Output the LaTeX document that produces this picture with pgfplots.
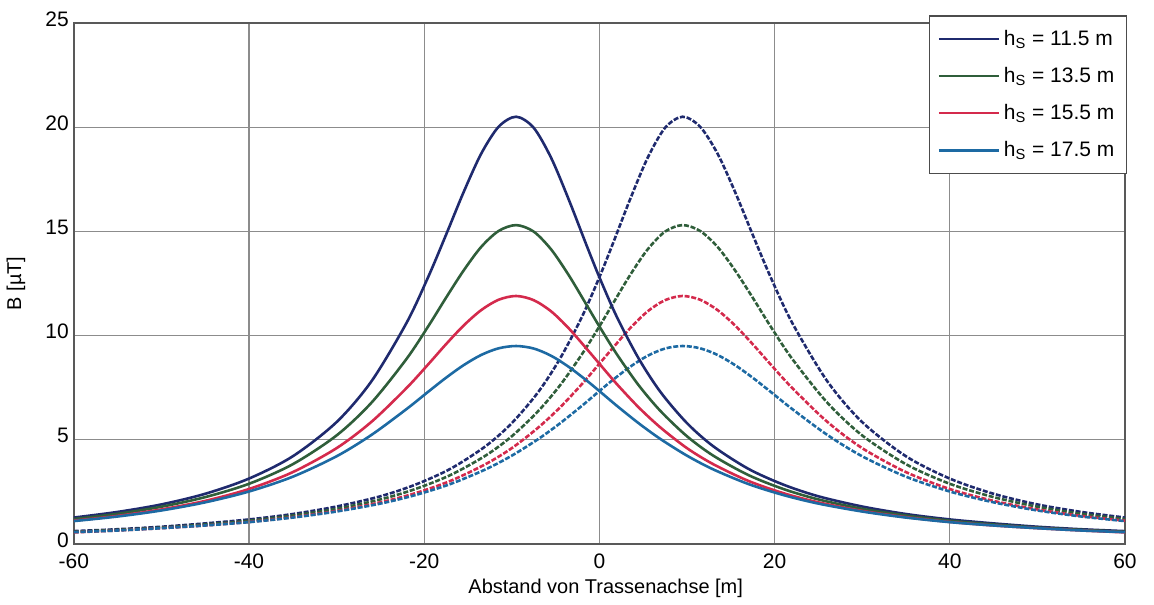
\documentclass[border=0pt]{standalone}
\usepackage{fontspec}
\setmainfont{Liberation Sans}
\usepackage{pgfplots}
\usepackage{pgfplotstable}
\pgfplotsset{compat=1.18}

\definecolor{cNavy}{HTML}{1F2A6E}
\definecolor{cGreen}{HTML}{2F5E3A}
\definecolor{cRed}{HTML}{D42A4C}
\definecolor{cBlue}{HTML}{1D6AA3}
\definecolor{cGrid}{HTML}{8C8C8C}

% x, h=11.5, 13.5, 15.5, 17.5 (left circuit, solid)
\pgfplotstableread{
x a b c d
-60 1.27 1.20 1.12 1.10
-55 1.54 1.45 1.35 1.32
-50 1.90 1.79 1.66 1.61
-45 2.41 2.25 2.07 2.00
-40 3.14 2.89 2.64 2.52
-35 4.21 3.83 3.45 3.23
-30 5.85 5.21 4.60 4.21
-26 7.82 6.79 5.87 5.24
-22 10.62 8.89 7.49 6.48
-19.5 12.85 10.47 8.64 7.32
-17.5 14.84 11.82 9.59 7.98
-15.5 16.88 13.12 10.48 8.58
-13.5 18.72 14.25 11.22 9.07
-11.5 20.02 15.02 11.72 9.39
-9.5 20.50 15.30 11.90 9.50
-7.5 19.97 14.99 11.70 9.38
-5.5 18.52 14.13 11.16 9.03
-3.5 16.53 12.90 10.35 8.50
-1.5 14.37 11.50 9.39 7.86
0 12.80 10.44 8.65 7.34
2 10.89 9.10 7.67 6.63
4.5 8.89 7.61 6.55 5.79
7 7.28 6.37 5.58 5.03
10 5.80 5.17 4.60 4.24
13 4.69 4.24 3.83 3.58
17 3.61 3.31 3.03 2.88
21 2.85 2.64 2.44 2.35
25 2.29 2.14 2.00 1.94
30 1.80 1.69 1.59 1.56
35 1.44 1.37 1.29 1.27
40 1.18 1.12 1.06 1.05
45 0.99 0.94 0.89 0.89
50 0.83 0.79 0.76 0.76
55 0.71 0.68 0.65 0.65
60 0.62 0.59 0.56 0.57
}\solid

% right circuit, dashed
\pgfplotstableread{
x a b c d
-60 0.62 0.59 0.56 0.57
-55 0.71 0.68 0.65 0.65
-50 0.83 0.79 0.76 0.76
-45 0.99 0.94 0.89 0.89
-40 1.18 1.12 1.06 1.05
-35 1.44 1.37 1.29 1.27
-30 1.80 1.69 1.59 1.56
-25 2.29 2.14 2.00 1.94
-21 2.85 2.64 2.44 2.35
-17 3.61 3.31 3.03 2.88
-13 4.69 4.24 3.83 3.58
-10 5.80 5.17 4.60 4.24
-7 7.28 6.37 5.58 5.03
-4.5 8.89 7.61 6.55 5.79
-2 10.89 9.10 7.67 6.63
0 12.80 10.44 8.65 7.34
1.5 14.37 11.50 9.39 7.86
3.5 16.53 12.90 10.35 8.50
5.5 18.52 14.13 11.16 9.03
7.5 19.97 14.99 11.70 9.38
9.5 20.50 15.30 11.90 9.50
11.5 20.02 15.02 11.72 9.39
13.5 18.72 14.25 11.22 9.07
15.5 16.88 13.12 10.48 8.58
17.5 14.84 11.82 9.59 7.98
19.5 12.85 10.47 8.64 7.32
22 10.62 8.89 7.49 6.48
26 7.82 6.79 5.87 5.24
30 5.85 5.21 4.60 4.21
35 4.21 3.83 3.45 3.23
40 3.14 2.89 2.64 2.52
45 2.41 2.25 2.07 2.00
50 1.90 1.79 1.66 1.61
55 1.54 1.45 1.35 1.32
60 1.27 1.20 1.12 1.10
}\dashed

\begin{document}
\begin{tikzpicture}
\begin{axis}[
  scale only axis,
  width=526.5pt, height=261pt,
  xmin=-60, xmax=60, ymin=0, ymax=25,
  xtick={-60,-40,...,60},
  ytick={0,5,...,25},
  grid=major,
  grid style={cGrid, line width=0.6pt},
  axis line style={black!65, line width=0.8pt},
  tick style={draw=none},
  /pgf/number format/assume math mode=true,
  ticklabel style={font=\fontsize{10.5}{12}\selectfont},
  xticklabel style={yshift=-1.5pt},
  yticklabel style={xshift=1pt, yshift=2pt},
  xlabel={Abstand von Trassenachse [m]},
  ylabel={B [µT]},
  label style={font=\fontsize{10}{12}\selectfont},
  xlabel style={at={(rel axis cs:0.506,-0.085)}, anchor=center},
  ylabel style={at={(rel axis cs:-0.055,0.5)}, anchor=center},
  legend style={at={(rel axis cs:1.002,1.015)}, anchor=north east,
    draw=black!70, line width=0.8pt,
    font=\fontsize{10.5}{12}\selectfont,
    row sep=5.5pt, inner xsep=4pt, inner ysep=5pt},
  legend cell align=left,
  legend image code/.code={\draw[#1, line width=1.2pt] (0pt,0pt) -- (30pt,0pt);},
  every axis plot/.append style={line width=1.3pt, smooth},
]
\addplot[cNavy, dash pattern=on 2.5pt off 0.9pt, forget plot] table[x=x, y=a] {\dashed};
\addplot[cGreen, dash pattern=on 2.5pt off 0.9pt, forget plot] table[x=x, y=b] {\dashed};
\addplot[cRed, dash pattern=on 2.5pt off 0.9pt, forget plot] table[x=x, y=c] {\dashed};
\addplot[cBlue, dash pattern=on 2.5pt off 0.9pt, forget plot] table[x=x, y=d] {\dashed};

\addplot[cNavy] table[x=x, y=a] {\solid};
\addlegendentry{h\textsubscript{S} = 11.5 m}
\addplot[cGreen] table[x=x, y=b] {\solid};
\addlegendentry{h\textsubscript{S} = 13.5 m}
\addplot[cRed] table[x=x, y=c] {\solid};
\addlegendentry{h\textsubscript{S} = 15.5 m}
\addplot[cBlue] table[x=x, y=d] {\solid};
\addlegendentry{h\textsubscript{S} = 17.5 m}

\coordinate (bbl) at (rel axis cs:-0.0684,-0.107);
\coordinate (btr) at (rel axis cs:1.0276,1.044);
\end{axis}
\path (bbl) rectangle (btr);
\end{tikzpicture}
\end{document}
